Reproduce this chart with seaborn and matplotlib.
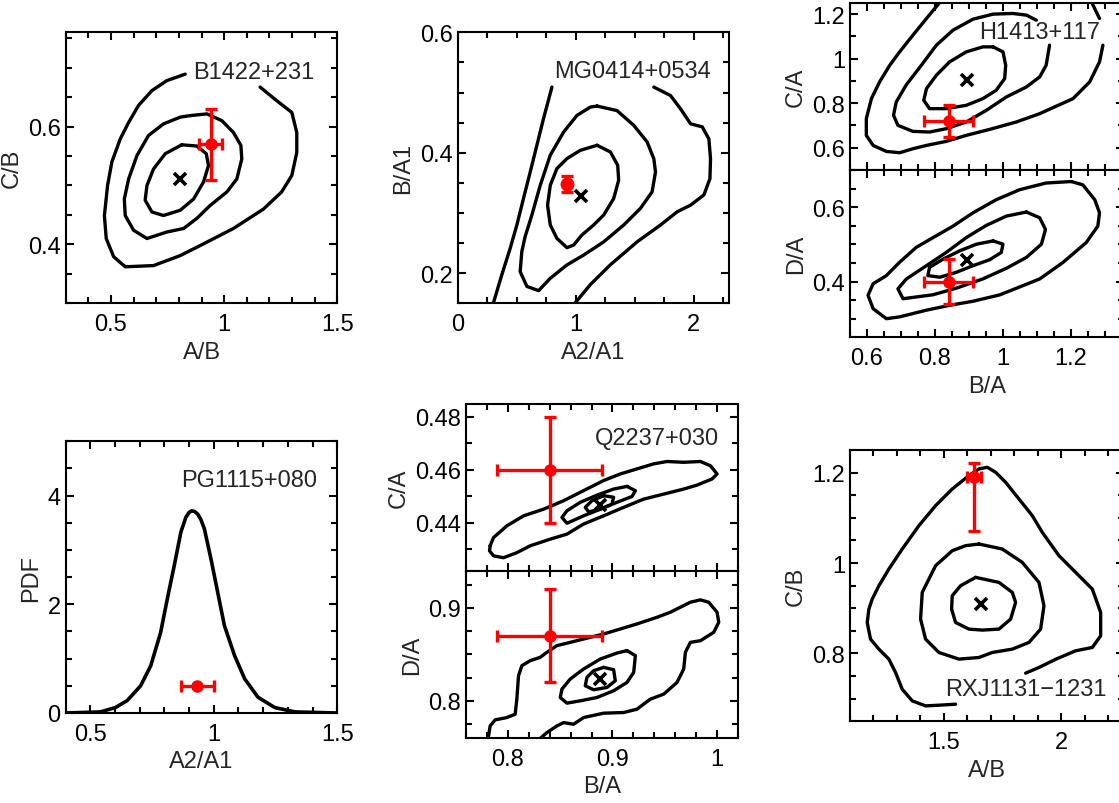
import numpy as np
import matplotlib
matplotlib.use("Agg")
import matplotlib.pyplot as plt
from matplotlib.ticker import MultipleLocator, FuncFormatter
import seaborn as sns

sns.set_style("ticks")
plt.rcParams["font.family"] = ["Liberation Sans", "DejaVu Sans"]
FS = 17
plt.rcParams.update({
    "font.size": FS,
    "axes.linewidth": 1.5,
    "xtick.direction": "in", "ytick.direction": "in",
    "xtick.top": True, "ytick.right": True,
    "xtick.major.size": 6, "ytick.major.size": 6,
    "xtick.minor.size": 4, "ytick.minor.size": 4,
    "xtick.major.width": 1.5, "ytick.major.width": 1.5,
    "xtick.minor.width": 1.5, "ytick.minor.width": 1.5,
    "xtick.labelsize": FS, "ytick.labelsize": FS,
    "axes.labelsize": FS,
    "xtick.color": "black", "ytick.color": "black",
    "axes.edgecolor": "black",
})

# ---------------- B1422+231 : C/B vs A/B ----------------
B1422_OUTER = [(0.828, 0.689), (0.747, 0.678), (0.681, 0.661), (0.622, 0.636), (0.578, 0.607),
               (0.541, 0.579), (0.504, 0.540), (0.485, 0.500), (0.471, 0.449), (0.479, 0.410),
               (0.512, 0.379), (0.563, 0.362), (0.688, 0.364), (0.806, 0.381), (0.894, 0.398),
               (1.041, 0.427), (1.174, 0.460), (1.254, 0.489), (1.299, 0.517), (1.321, 0.556),
               (1.321, 0.590), (1.299, 0.624), (1.232, 0.644), (1.159, 0.667)]
B1422_MID = [(0.850, 0.6186), (0.924, 0.6215), (0.990, 0.610), (1.041, 0.590), (1.074, 0.568),
             (1.078, 0.545), (1.056, 0.511), (1.012, 0.489), (0.938, 0.466), (0.879, 0.444),
             (0.821, 0.427), (0.747, 0.421), (0.659, 0.410), (0.600, 0.424), (0.563, 0.449),
             (0.559, 0.477), (0.578, 0.511), (0.615, 0.551), (0.666, 0.585), (0.732, 0.6045),
             (0.806, 0.616)]
B1422_INNER = [(0.813, 0.569), (0.879, 0.567), (0.921, 0.554), (0.931, 0.534), (0.909, 0.506),
               (0.865, 0.477), (0.806, 0.458), (0.732, 0.449), (0.681, 0.455), (0.651, 0.475),
               (0.659, 0.500), (0.688, 0.528), (0.740, 0.554)]
B1422_PEAK = (0.806, 0.511)
B1422_OBS = (0.94, 0.57)
B1422_OBS_ERR = (0.05, 0.06)

# ---------------- MG0414+0534 : B/A1 vs A2/A1 ----------------
MG0414_OUTER_L = [(0.303, 0.151), (0.373, 0.197), (0.444, 0.241), (0.501, 0.280), (0.557, 0.324),
                  (0.614, 0.368), (0.670, 0.412), (0.727, 0.457), (0.798, 0.509)]
MG0414_OUTER_R = [(1.661, 0.509), (1.802, 0.495), (1.887, 0.473), (1.972, 0.448), (2.071, 0.443),
                  (2.127, 0.423), (2.141, 0.390), (2.136, 0.357), (2.085, 0.330), (1.972, 0.313),
                  (1.859, 0.302), (1.717, 0.280), (1.519, 0.252), (1.293, 0.214), (1.123, 0.181),
                  (0.996, 0.151)]
MG0414_MID = [(1.180, 0.4775), (1.349, 0.470), (1.491, 0.4455), (1.604, 0.418), (1.661, 0.390),
              (1.675, 0.368), (1.646, 0.335), (1.547, 0.3075), (1.406, 0.280), (1.236, 0.252),
              (1.066, 0.230), (0.925, 0.2137), (0.784, 0.1916), (0.685, 0.171), (0.586, 0.178),
              (0.529, 0.2026), (0.543, 0.236), (0.571, 0.2606), (0.628, 0.2965), (0.699, 0.346),
              (0.784, 0.396), (0.897, 0.4344), (1.010, 0.462), (1.123, 0.4758)]
MG0414_INNER = [(1.180, 0.4124), (1.293, 0.4013), (1.355, 0.3792), (1.363, 0.3544), (1.321, 0.324),
                (1.236, 0.2965), (1.151, 0.280), (1.052, 0.2634), (0.982, 0.2468), (0.925, 0.2424),
                (0.840, 0.2578), (0.784, 0.280), (0.761, 0.313), (0.784, 0.346), (0.840, 0.3737),
                (0.925, 0.3903), (1.038, 0.404)]
MG0414_PEAK = (1.047, 0.328)
MG0414_OBS = (0.925, 0.348)
MG0414_OBS_ERR = (0.02, 0.014)

# ---------------- H1413+117 : C/A and D/A vs B/A ----------------
H1413_CA_OUTER = [(1.294, 1.0605), (1.284, 0.9855), (1.255, 0.8955), (1.206, 0.8205), (1.108, 0.753),
                  (1.039, 0.7155), (0.961, 0.6825), (0.892, 0.6555), (0.833, 0.6285), (0.775, 0.6105),
                  (0.735, 0.5955), (0.696, 0.5775), (0.657, 0.5835), (0.618, 0.6105), (0.598, 0.6555),
                  (0.598, 0.7305), (0.613, 0.8205), (0.637, 0.8955), (0.667, 0.9705), (0.696, 1.0305),
                  (0.735, 1.1055), (0.775, 1.1805), (0.814, 1.2525)]
H1413_CA_OUTER_TOP = [(1.260, 1.2555), (1.284, 1.1805)]
H1413_CA_MID = [(1.098, 1.173), (1.069, 1.1955), (1.029, 1.203), (0.971, 1.200), (0.912, 1.1775),
                (0.853, 1.128), (0.804, 1.0605), (0.760, 0.9705), (0.716, 0.8835), (0.686, 0.8055),
                (0.678, 0.7455), (0.691, 0.7005), (0.735, 0.6735), (0.784, 0.6705), (0.833, 0.6855),
                (0.892, 0.7155), (0.951, 0.768), (1.010, 0.828), (1.069, 0.873), (1.108, 0.918),
                (1.127, 0.9705), (1.137, 1.0605)]
H1413_CA_INNER = [(0.971, 1.053), (1.000, 1.0305), (1.008, 0.9705), (1.005, 0.9105), (0.980, 0.858),
                  (0.941, 0.8205), (0.892, 0.7905), (0.833, 0.7755), (0.784, 0.7755), (0.767, 0.813),
                  (0.775, 0.8655), (0.804, 0.9255), (0.843, 0.9855), (0.892, 1.0305), (0.941, 1.053)]
H1413_DA_OUTER = [(1.201, 0.669), (1.235, 0.660), (1.270, 0.620), (1.284, 0.585), (1.279, 0.549),
                  (1.245, 0.505), (1.176, 0.451), (1.108, 0.407), (1.059, 0.389), (0.990, 0.364),
                  (0.912, 0.347), (0.843, 0.336), (0.775, 0.323), (0.696, 0.305), (0.657, 0.300),
                  (0.618, 0.327), (0.603, 0.363), (0.618, 0.394), (0.657, 0.416), (0.696, 0.452),
                  (0.745, 0.492), (0.794, 0.518), (0.853, 0.549), (0.912, 0.585), (0.980, 0.620),
                  (1.049, 0.647), (1.127, 0.665)]
H1413_DA_MID = [(1.069, 0.587), (1.108, 0.5716), (1.125, 0.540), (1.113, 0.5004), (1.069, 0.465),
                (1.010, 0.4356), (0.941, 0.4071), (0.863, 0.3822), (0.794, 0.3644), (0.706, 0.3538),
                (0.691, 0.3804), (0.716, 0.4071), (0.775, 0.4427), (0.833, 0.4782), (0.892, 0.5182),
                (0.951, 0.5511), (1.010, 0.576)]
H1413_DA_INNER = [(0.971, 0.5093), (1.000, 0.5004), (0.995, 0.4782), (0.961, 0.4587), (0.912, 0.4427),
                  (0.863, 0.4249), (0.814, 0.4116), (0.779, 0.416), (0.784, 0.4382), (0.824, 0.4604),
                  (0.873, 0.4827), (0.922, 0.5004)]
H1413_PEAK_BA = 0.895
H1413_PEAK_CA = 0.906
H1413_PEAK_DA = 0.458
H1413_OBS_BA, H1413_ERR_BA = 0.84, 0.072
H1413_OBS_CA, H1413_ERR_CA = 0.72, 0.07
H1413_OBS_DA, H1413_ERR_DA = 0.40, 0.06

# ---------------- PG1115+080 : PDF of A2/A1 ----------------
PG1115_X = [0.40, 0.541, 0.602, 0.650, 0.704, 0.745, 0.785, 0.812, 0.840, 0.867, 0.887, 0.900,
            0.910, 0.922, 0.935, 0.948, 0.962, 0.989, 1.016, 1.043, 1.084, 1.125, 1.179, 1.247,
            1.329, 1.50]
PG1115_PDF = [0.0, 0.02, 0.10, 0.23, 0.50, 0.87, 1.48, 2.10, 2.71, 3.33, 3.60, 3.69,
              3.72, 3.71, 3.66, 3.56, 3.39, 2.83, 2.22, 1.61, 1.06, 0.63, 0.29, 0.10,
              0.02, 0.0]
PG1115_OBS, PG1115_OBS_ERR, PG1115_MARK_Y = 0.933, 0.066, 0.5

# ---------------- Q2237+030 : C/A and D/A vs B/A ----------------
Q2237_CA_OUTER = [(0.7831, 0.4314), (0.7863, 0.4345), (0.7990, 0.4389), (0.8150, 0.4427), (0.8341, 0.4452),
                  (0.8533, 0.4484), (0.8724, 0.4522), (0.8915, 0.4560), (0.9075, 0.4585), (0.9234, 0.4604),
                  (0.9394, 0.4623), (0.9522, 0.4632), (0.9681, 0.4629), (0.9841, 0.4632), (0.9936, 0.4616),
                  (1.0000, 0.4585), (0.9952, 0.4566), (0.9809, 0.4543), (0.9681, 0.4528), (0.9490, 0.4509),
                  (0.9298, 0.4490), (0.9107, 0.4459), (0.8915, 0.4427), (0.8724, 0.4396), (0.8565, 0.4358),
                  (0.8405, 0.4339), (0.8214, 0.4314), (0.8086, 0.4288), (0.7959, 0.4269), (0.7863, 0.4276),
                  (0.7825, 0.4295)]
Q2237_CA_MID = [(0.9139, 0.4538), (0.9219, 0.4522), (0.9187, 0.4500), (0.9043, 0.4478), (0.8884, 0.4452),
                (0.8724, 0.4427), (0.8565, 0.4399), (0.8517, 0.4421), (0.8565, 0.4446), (0.8692, 0.4478),
                (0.8852, 0.4505), (0.9011, 0.4528)]
Q2237_CA_INNER = [(0.8915, 0.4503), (0.9011, 0.4497), (0.8995, 0.4471), (0.8884, 0.4452), (0.8772, 0.4442),
                  (0.8740, 0.4459), (0.8804, 0.4484)]
Q2237_DA_OUTER = [(0.7805, 0.7550), (0.7831, 0.7730), (0.7879, 0.7795), (0.7990, 0.7820), (0.8070, 0.7856),
                  (0.8086, 0.8018), (0.8102, 0.8270), (0.8134, 0.8378), (0.8214, 0.8432), (0.8309, 0.8468),
                  (0.8373, 0.8522), (0.8469, 0.8594), (0.8596, 0.8629), (0.8724, 0.8665), (0.8915, 0.8719),
                  (0.9075, 0.8773), (0.9234, 0.8827), (0.9426, 0.8899), (0.9553, 0.8953), (0.9681, 0.9025),
                  (0.9745, 0.9061), (0.9841, 0.9086), (0.9920, 0.9061), (1.0000, 0.8953), (1.0016, 0.8845),
                  (0.9968, 0.8737), (0.9841, 0.8647), (0.9745, 0.8629), (0.9697, 0.8522), (0.9681, 0.8342),
                  (0.9617, 0.8198), (0.9490, 0.8072), (0.9362, 0.8018), (0.9234, 0.7910), (0.9107, 0.7874),
                  (0.8915, 0.7867), (0.8724, 0.7820), (0.8628, 0.7748), (0.8533, 0.7766), (0.8469, 0.7730),
                  (0.8373, 0.7658), (0.8262, 0.7550)]
Q2237_DA_MID = [(0.9139, 0.8540), (0.9219, 0.8486), (0.9203, 0.8306), (0.9139, 0.8198), (0.9011, 0.8108),
                (0.8852, 0.8036), (0.8692, 0.8000), (0.8565, 0.7975), (0.8501, 0.8036), (0.8517, 0.8126),
                (0.8596, 0.8234), (0.8724, 0.8342), (0.8884, 0.8450), (0.9043, 0.8514)]
Q2237_DA_INNER = [(0.8915, 0.8360), (0.9011, 0.8335), (0.9027, 0.8216), (0.8947, 0.8144), (0.8820, 0.8119),
                  (0.8740, 0.8162), (0.8756, 0.8252), (0.8820, 0.8324)]
Q2237_PEAK_BA = 0.8877
Q2237_PEAK_CA = 0.4468
Q2237_PEAK_DA = 0.824
Q2237_OBS_BA, Q2237_ERR_BA = 0.84, 0.05
Q2237_OBS_CA, Q2237_ERR_CA = 0.46, 0.02
Q2237_OBS_DA, Q2237_ERR_DA = 0.87, 0.05

# ---------------- RXJ1131-1231 : C/B vs A/B ----------------
RXJ1131_OUTER = [(1.5497, 0.6878), (1.4787, 0.6856), (1.4219, 0.6841), (1.3651, 0.6952), (1.3224, 0.7210),
                 (1.2940, 0.7579), (1.2656, 0.7875), (1.2230, 0.8096), (1.1875, 0.8317), (1.1733, 0.8686),
                 (1.1804, 0.8982), (1.1946, 0.9203), (1.2230, 0.9498), (1.2656, 0.9867), (1.3224, 1.0310),
                 (1.3935, 1.0827), (1.4645, 1.1269), (1.5355, 1.1638), (1.6065, 1.1934), (1.6491, 1.2081),
                 (1.6847, 1.2118), (1.7202, 1.2007), (1.7628, 1.1786), (1.8196, 1.1417), (1.8764, 1.1048),
                 (1.9190, 1.0679), (1.9901, 1.0162), (2.0611, 0.9793), (2.1321, 0.9424), (2.1676, 0.8908),
                 (2.1676, 0.8391), (2.1321, 0.8133), (2.0611, 0.8059), (1.9773, 0.7875), (1.9048, 0.7690),
                 (1.8480, 0.7565)]
RXJ1131_MID = [(1.6491, 1.0421), (1.7486, 1.0310), (1.8338, 1.0015), (1.9048, 0.9572), (1.9261, 0.9055),
               (1.9119, 0.8539), (1.8622, 0.8244), (1.7912, 0.8096), (1.7060, 0.8022), (1.6491, 0.7911),
               (1.5639, 0.7875), (1.4787, 0.8022), (1.4219, 0.8317), (1.4006, 0.8760), (1.4077, 0.9351),
               (1.4645, 0.9941), (1.5355, 1.0273), (1.5923, 1.0384)]
RXJ1131_INNER = [(1.6349, 0.9683), (1.7344, 0.9572), (1.7912, 0.9351), (1.8054, 0.9129), (1.7841, 0.8760),
                 (1.7344, 0.8539), (1.6634, 0.8517), (1.6065, 0.8539), (1.5497, 0.8686), (1.5327, 0.8982),
                 (1.5355, 0.9277), (1.5710, 0.9498)]
RXJ1131_PEAK = (1.659, 0.909)
RXJ1131_OBS = (1.629, 1.191)
RXJ1131_OBS_XERR = 0.03
RXJ1131_OBS_YERR = (0.12, 0.03)   # (lower, upper)

LINE_W = 2.4
RED = "#ff0000"

fig = plt.figure(figsize=(11.19, 8.04), dpi=100)


def contour(ax, pts, closed=True):
    arr = np.array(list(pts) + ([pts[0]] if closed else []))
    sns.lineplot(x=arr[:, 0], y=arr[:, 1], sort=False, estimator=None, ax=ax,
                 color="black", lw=LINE_W, solid_joinstyle="round", legend=False)


def peak(ax, x, y, marker="x"):
    ax.plot([x], [y], marker=marker, ms=9, mew=2.6, color="black", ls="none", zorder=5)


def observed(ax, x, y, xerr, yerr, ms=8):
    ax.errorbar([x], [y], xerr=xerr, yerr=yerr, fmt="o", color=RED, ms=ms, lw=2.4,
                capsize=4.5, capthick=2.4, zorder=6)


def gfmt(v, pos):
    return "{:g}".format(round(v, 6))


def style(ax, xlim, ylim, xmaj, xmin, ymaj, ymin, xlabel=None, ylabel=None, xlabels=True):
    ax.set_xlim(*xlim)
    ax.set_ylim(*ylim)
    ax.xaxis.set_major_locator(MultipleLocator(xmaj))
    ax.xaxis.set_minor_locator(MultipleLocator(xmin))
    ax.yaxis.set_major_locator(MultipleLocator(ymaj))
    ax.yaxis.set_minor_locator(MultipleLocator(ymin))
    ax.xaxis.set_major_formatter(FuncFormatter(gfmt))
    ax.yaxis.set_major_formatter(FuncFormatter(gfmt))
    ax.tick_params(which="both", direction="in", top=True, right=True)
    ax.tick_params(axis="x", pad=7)
    if not xlabels:
        ax.tick_params(axis="x", labelbottom=False)
    ax.set_xlabel(xlabel if xlabel else "")
    ax.set_ylabel(ylabel if ylabel else "")
    for s in ax.spines.values():
        s.set_linewidth(1.5)


def px_axes(left, top, right, bottom):
    W, H = 1119.0, 804.0
    return fig.add_axes([left / W, 1 - bottom / H, (right - left) / W, (bottom - top) / H])


# B1422+231
ax1 = px_axes(65.7, 33.3, 337.3, 304.3)
for c, closed in [(B1422_OUTER, False), (B1422_MID, True), (B1422_INNER, True)]:
    contour(ax1, c, closed)
peak(ax1, *B1422_PEAK)
observed(ax1, B1422_OBS[0], B1422_OBS[1], B1422_OBS_ERR[0], B1422_OBS_ERR[1])
ax1.text(1.129, 0.693, "B1422+231", ha="center", va="center", fontsize=FS)
style(ax1, (0.3, 1.5), (0.3, 0.76), 0.5, 0.1, 0.2, 0.05, "A/B", "C/B")

# MG0414+0534
ax2 = px_axes(457.7, 33.3, 729.3, 304.3)
for c, closed in [(MG0414_OUTER_L, False), (MG0414_OUTER_R, False), (MG0414_MID, True), (MG0414_INNER, True)]:
    contour(ax2, c, closed)
peak(ax2, *MG0414_PEAK)
observed(ax2, MG0414_OBS[0], MG0414_OBS[1], MG0414_OBS_ERR[0], MG0414_OBS_ERR[1], ms=9)
ax2.text(1.477, 0.535, "MG0414+0534", ha="center", va="center", fontsize=FS)
style(ax2, (0.0, 2.3), (0.15, 0.6), 1.0, 0.25, 0.2, 0.05, "A2/A1", "B/A1")

# H1413+117 (right spine lies just past the figure edge)
ax3a = px_axes(850, 4, 1124, 171)
ax3b = px_axes(850, 171, 1124, 338.3)
for c, closed in [(H1413_CA_OUTER, False), (H1413_CA_OUTER_TOP, False), (H1413_CA_MID, False),
                  (H1413_CA_INNER, True)]:
    contour(ax3a, c, closed)
for c in [H1413_DA_OUTER, H1413_DA_MID, H1413_DA_INNER]:
    contour(ax3b, c, True)
peak(ax3a, H1413_PEAK_BA, H1413_PEAK_CA)
peak(ax3b, H1413_PEAK_BA, H1413_PEAK_DA)
observed(ax3a, H1413_OBS_BA, H1413_OBS_CA, H1413_ERR_BA, H1413_ERR_CA)
observed(ax3b, H1413_OBS_BA, H1413_OBS_DA, H1413_ERR_BA, H1413_ERR_DA)
ax3a.text(1.108, 1.12, "H1413+117", ha="center", va="center", fontsize=FS)
style(ax3a, (0.55, 1.356), (0.5, 1.25), 0.2, 0.05, 0.2, 0.1, None, "C/A", xlabels=False)
style(ax3b, (0.55, 1.356), (0.25, 0.7), 0.2, 0.05, 0.2, 0.05, "B/A", "D/A")

# PG1115+080
ax4 = px_axes(65.5, 442.3, 337.3, 714)
sns.lineplot(x=PG1115_X, y=PG1115_PDF, ax=ax4, color="black", lw=2.6, sort=False,
             estimator=None, legend=False, solid_joinstyle="round")
observed(ax4, PG1115_OBS, PG1115_MARK_Y, PG1115_OBS_ERR, None)
ax4.text(1.145, 4.29, "PG1115+080", ha="center", va="center", fontsize=FS)
style(ax4, (0.4, 1.5), (0.0, 5.0), 0.5, 0.1, 2.0, 0.5, "A2/A1", "PDF")

# Q2237+030
ax5a = px_axes(466, 404.7, 738, 571.7)
ax5b = px_axes(466, 571.7, 738, 739)
for c in [Q2237_CA_OUTER, Q2237_CA_MID, Q2237_CA_INNER]:
    contour(ax5a, c, True)
for c, closed in [(Q2237_DA_OUTER, False), (Q2237_DA_MID, True), (Q2237_DA_INNER, True)]:
    contour(ax5b, c, closed)
peak(ax5a, Q2237_PEAK_BA, Q2237_PEAK_CA)
peak(ax5b, Q2237_PEAK_BA, Q2237_PEAK_DA)
observed(ax5a, Q2237_OBS_BA, Q2237_OBS_CA, Q2237_ERR_BA, Q2237_ERR_CA)
observed(ax5b, Q2237_OBS_BA, Q2237_OBS_DA, Q2237_ERR_BA, Q2237_ERR_DA)
ax5a.text(0.9426, 0.472, "Q2237+030", ha="center", va="center", fontsize=FS)
style(ax5a, (0.76, 1.02), (0.422, 0.485), 0.1, 0.02, 0.02, 0.01, None, "C/A", xlabels=False)
style(ax5b, (0.76, 1.02), (0.76, 0.94), 0.1, 0.02, 0.1, 0.025, "B/A", "D/A")

# RXJ1131-1231
ax6 = px_axes(850, 451, 1124, 722.3)
for c, closed in [(RXJ1131_OUTER, False), (RXJ1131_MID, True), (RXJ1131_INNER, True)]:
    contour(ax6, c, closed)
peak(ax6, *RXJ1131_PEAK)
observed(ax6, RXJ1131_OBS[0], RXJ1131_OBS[1], RXJ1131_OBS_XERR,
         [[RXJ1131_OBS_YERR[0]], [RXJ1131_OBS_YERR[1]]])
ax6.text(1.848, 0.7225, "RXJ1131\u22121231", ha="center", va="center", fontsize=FS)
style(ax6, (1.1, 2.267), (0.65, 1.25), 0.5, 0.1, 0.2, 0.05, "A/B", "C/B")

fig.savefig("out.png", dpi=100)
